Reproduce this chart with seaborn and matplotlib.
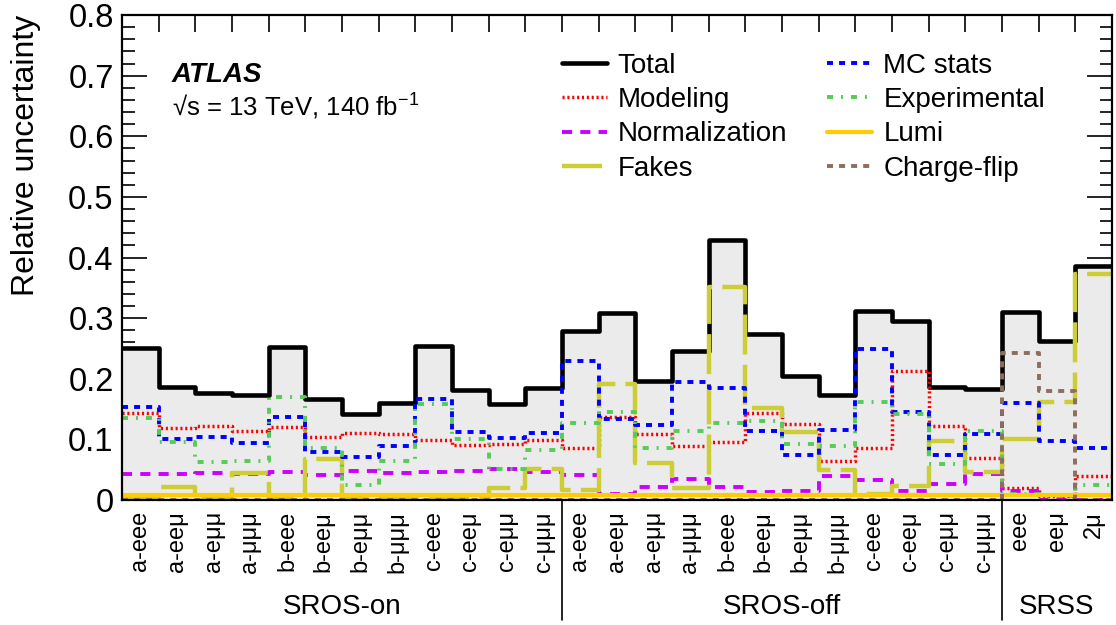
import numpy as np
import pandas as pd
import matplotlib
matplotlib.use("Agg")
import matplotlib.pyplot as plt
import matplotlib.transforms as mtransforms
from matplotlib.lines import Line2D
from matplotlib.ticker import MultipleLocator, FuncFormatter
import seaborn as sns

# --- data ---
labels_on = ["a-eee", "a-eeμ", "a-eμμ", "a-μμμ", "b-eee", "b-eeμ", "b-eμμ", "b-μμμ",
             "c-eee", "c-eeμ", "c-eμμ", "c-μμμ"]
labels_off = ["a-eee", "a-eeμ", "a-eμμ", "a-μμμ", "b-eee", "b-eeμ", "b-eμμ", "b-μμμ",
              "c-eee", "c-eeμ", "c-eμμ", "c-μμμ"]
labels_ss = ["eee", "eeμ", "2μ"]
regions = ["SROS-on", "SROS-off", "SRSS"]

total = [0.251, 0.186, 0.176, 0.173, 0.252, 0.167, 0.142, 0.160, 0.254, 0.181, 0.158, 0.185,
         0.279, 0.308, 0.196, 0.246, 0.429, 0.274, 0.205, 0.173, 0.312, 0.295, 0.186, 0.183,
         0.310, 0.262, 0.386]
mc_stats = [0.153, 0.100, 0.104, 0.094, 0.137, 0.079, 0.071, 0.089, 0.167, 0.112, 0.102, 0.111,
            0.229, 0.134, 0.124, 0.194, 0.185, 0.114, 0.074, 0.115, 0.249, 0.145, 0.074, 0.109,
            0.160, 0.097, 0.086]
modeling = [0.143, 0.119, 0.122, 0.114, 0.121, 0.104, 0.111, 0.109, 0.099, 0.090, 0.092, 0.099,
            0.086, 0.137, 0.109, 0.089, 0.096, 0.144, 0.125, 0.064, 0.086, 0.213, 0.122, 0.069,
            0.020, 0.006, 0.040]
experimental = [0.135, 0.096, 0.063, 0.064, 0.170, 0.085, 0.025, 0.064, 0.158, 0.100, 0.051, 0.082,
                0.127, 0.145, 0.086, 0.114, 0.127, 0.130, 0.092, 0.089, 0.162, 0.142, 0.059, 0.113,
                0.010, 0.006, 0.025]
normalization = [0.043, 0.043, 0.044, 0.043, 0.046, 0.041, 0.048, 0.045, 0.046, 0.048, 0.051, 0.047,
                 0.041, 0.010, 0.021, 0.034, 0.021, 0.014, 0.015, 0.040, 0.033, 0.015, 0.026, 0.043,
                 0.015, 0.0, 0.0]
fakes = [0.004, 0.021, 0.005, 0.044, 0.005, 0.068, 0.005, 0.005, 0.005, 0.005, 0.020, 0.051,
         0.016, 0.191, 0.061, 0.020, 0.352, 0.152, 0.112, 0.050, 0.010, 0.023, 0.097, 0.046,
         0.100, 0.162, 0.373]
lumi = [0.008, 0.008, 0.008, 0.008, 0.008, 0.008, 0.008, 0.008, 0.008, 0.008, 0.008, 0.008,
        0.008, 0.008, 0.008, 0.008, 0.008, 0.008, 0.008, 0.008, 0.008, 0.008, 0.008, 0.008,
        0.008, 0.008, 0.008]
charge_flip = [0.0, 0.0, 0.0, 0.0, 0.0, 0.0, 0.0, 0.0, 0.0, 0.0, 0.0, 0.0,
               0.0, 0.0, 0.0, 0.0, 0.0, 0.0, 0.0, 0.0, 0.0, 0.0, 0.0, 0.0,
               0.243, 0.180, 0.0]

bin_labels = labels_on + labels_off + labels_ss
nbins = len(bin_labels)
edges = np.arange(nbins + 1)
centers = edges[:-1] + 0.5

sns.set_style("ticks")
plt.rcParams["font.family"] = ["Liberation Sans", "DejaVu Sans"]
plt.rcParams["mathtext.fontset"] = "custom"
plt.rcParams["mathtext.rm"] = "Liberation Sans"
plt.rcParams["mathtext.it"] = "Liberation Sans:italic"
# seaborn greys the text; ROOT plots use plain black
for key in ["text.color", "axes.labelcolor", "xtick.color", "ytick.color", "axes.edgecolor"]:
    plt.rcParams[key] = "black"

fig, ax = plt.subplots(figsize=(11.16, 6.25), dpi=100)
fig.subplots_adjust(left=0.1093, right=0.9964, top=0.976, bottom=0.2)


def steps(vals):
    return pd.DataFrame({"x": edges, "y": list(vals) + [vals[-1]]})


# grey fill under the total
tot = steps(total)
ax.fill_between(tot.x, tot.y, step="post", color="#ebebeb", lw=0, zorder=1)

series = [
    ("Total", total, dict(color="black", lw=3.3, ls="-")),
    ("Modeling", modeling, dict(color="#ff0000", lw=2.5, ls=(0, (0.6, 0.8)))),
    ("Normalization", normalization, dict(color="#cc00ff", lw=2.8, ls=(0, (2.6, 2.1)))),
    ("Fakes", fakes, dict(color="#cdcd36", lw=3.2, ls=(0, (9, 2.3)))),
    ("MC stats", mc_stats, dict(color="#0000ff", lw=2.8, ls=(0, (1.55, 1.55)))),
    ("Experimental", experimental, dict(color="#55cc55", lw=2.8, ls=(0, (1.55, 2.05, 0.5, 2.05)))),
    ("Lumi", lumi, dict(color="#ffcc00", lw=3.0, ls="-")),
    ("Charge-flip", charge_flip, dict(color="#8c6e5e", lw=2.8, ls=(0, (1.55, 1.55)))),
]

handles = []
for i, (name, vals, st) in enumerate(series):
    d = steps(vals)
    sns.lineplot(data=d, x="x", y="y", ax=ax, drawstyle="steps-post",
                 color=st["color"], lw=st["lw"], linestyle=st["ls"], zorder=2 + i)
    lh = Line2D([], [], color=st["color"], lw=st["lw"], linestyle=st["ls"])
    handles.append((lh, name))

ax.set_xlim(0, nbins)
ax.set_ylim(0, 0.8)
ax.set_xlabel("")
ax.set_ylabel("Relative uncertainty", fontsize=23, loc="top")
ax.yaxis.set_label_coords(-0.082, 1.0)

# y axis ticks, ROOT style
ax.yaxis.set_major_locator(MultipleLocator(0.1))
ax.yaxis.set_minor_locator(MultipleLocator(0.02))
ax.yaxis.set_major_formatter(FuncFormatter(lambda v, p: f"{v:g}"))
ax.tick_params(axis="y", which="major", direction="in", length=18, width=1.2,
               right=True, labelsize=23.5, pad=6)
ax.tick_params(axis="y", which="minor", direction="in", length=9, width=1.2, right=True)

# x axis: labels at bin centres, ticks at bin edges
ax.set_xticks(centers)
ax.set_xticklabels(bin_labels, rotation=90, fontsize=17)
ax.set_xticks(edges, minor=True)
ax.tick_params(axis="x", which="major", length=0, pad=8)
ax.tick_params(axis="x", which="minor", direction="in", length=12, width=1.2,
               top=True, bottom=True)

for sp in ax.spines.values():
    sp.set_linewidth(1.6)
    sp.set_color("black")
    sp.set_zorder(20)

# region separators and names below the axis
trans = mtransforms.blended_transform_factory(ax.transData, ax.transAxes)
for x in [len(labels_on), len(labels_on) + len(labels_off)]:
    ax.plot([x, x], [0, -0.247], transform=trans, color="black", lw=1.2, clip_on=False)
reg_centers = [len(labels_on) / 2,
               len(labels_on) + len(labels_off) / 2,
               len(labels_on) + len(labels_off) + len(labels_ss) / 2]
for xc, name in zip(reg_centers, regions):
    ax.text(xc, -0.221, name, transform=trans, ha="center", va="center", fontsize=20)

# ATLAS label
ax.text(0.0505, 0.862, "ATLAS", transform=ax.transAxes, fontsize=20,
        fontweight="bold", fontstyle="italic")
ax.text(0.0505, 0.792, "√s = 13 TeV, 140 fb$^{\\mathrm{-1}}$",
        transform=ax.transAxes, fontsize=18.5)

ax.legend([h for h, n in handles], [n for h, n in handles], ncol=2, loc="upper left",
          bbox_to_anchor=(0.444, 0.922), frameon=False, fontsize=20,
          handlelength=1.62, handletextpad=0.4, columnspacing=1.44,
          labelspacing=0.3, borderpad=0, borderaxespad=0)

fig.savefig("out.png", dpi=100)
